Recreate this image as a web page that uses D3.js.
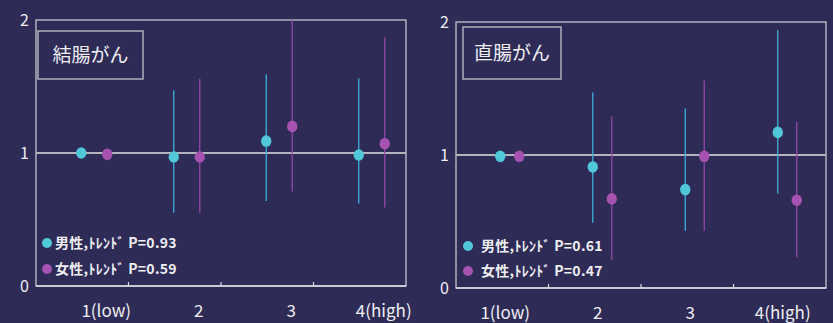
<!DOCTYPE html>
<html>
<head>
<meta charset="utf-8">
<script src="https://cdn.jsdelivr.net/npm/d3@7"></script>
<style>
  html, body { margin: 0; padding: 0; background: #2e2b56; }
  svg { display: block; }
  text { font-family: "Noto Sans CJK JP", "Noto Sans", sans-serif; }
</style>
</head>
<body>
<svg id="chart" width="833" height="323"></svg>
<script>
// Quartile categories
const categories = ["1(low)", "2", "3", "4(high)"];
const yTicks = [0, 1, 2];

// Colon cancer: relative risk with 95% CI (first quartile is the reference)
const colonMen      = [1.00, 0.97, 1.09, 0.985];
const colonMenLow   = [null, 0.55, 0.64, 0.62];
const colonMenHigh  = [null, 1.47, 1.59, 1.56];
const colonWomen     = [0.99, 0.97, 1.20, 1.07];
const colonWomenLow  = [null, 0.55, 0.71, 0.59];
const colonWomenHigh = [null, 1.56, 2.00, 1.87];

// Rectal cancer
const rectumMen      = [0.99, 0.91, 0.74, 1.17];
const rectumMenLow   = [null, 0.49, 0.43, 0.71];
const rectumMenHigh  = [null, 1.47, 1.35, 1.94];
const rectumWomen     = [0.99, 0.67, 0.99, 0.66];
const rectumWomenLow  = [null, 0.21, 0.43, 0.23];
const rectumWomenHigh = [null, 1.29, 1.56, 1.25];

// Legend texts (trend P values)
const colonLegend  = ["男性,ﾄﾚﾝﾄﾞ P=0.93", "女性,ﾄﾚﾝﾄﾞ P=0.59"];
const rectumLegend = ["男性,ﾄﾚﾝﾄﾞ P=0.61", "女性,ﾄﾚﾝﾄﾞ P=0.47"];

const menColor = "#50c8d8", menLine = "#3cb0d8";
const womenColor = "#a552b0", womenLine = "#9248a6";
const frameColor = "#c4c4cc", textColor = "#eeeef4";

const panels = [
  {
    title: "結腸がん", legend: colonLegend,
    x0: 36, x1: 406, top: 20, bottom: 286,
    menShift: -1, womenShift: 25, labelShift: 24,
    titleBox: { dx: 2, y: 31, w: 105, h: 48 },
    legendPos: { dx: 11, tx: 19, y: [243, 269] },
    series: [
      { v: colonMen, lo: colonMenLow, hi: colonMenHigh, color: menColor, line: menLine, key: "menShift" },
      { v: colonWomen, lo: colonWomenLow, hi: colonWomenHigh, color: womenColor, line: womenLine, key: "womenShift" }
    ]
  },
  {
    title: "直腸がん", legend: rectumLegend,
    x0: 456, x1: 826, top: 22, bottom: 288,
    menShift: -2, womenShift: 17, labelShift: 3,
    titleBox: { dx: 7, y: 27, w: 98, h: 52 },
    legendPos: { dx: 12, tx: 25, y: [246, 271] },
    series: [
      { v: rectumMen, lo: rectumMenLow, hi: rectumMenHigh, color: menColor, line: menLine, key: "menShift" },
      { v: rectumWomen, lo: rectumWomenLow, hi: rectumWomenHigh, color: womenColor, line: womenLine, key: "womenShift" }
    ]
  }
];

const svg = d3.select("#chart");

panels.forEach((p, pi) => {
  const g = svg.append("g");
  const x = d3.scaleBand().domain(categories).range([p.x0, p.x1]).padding(0);
  const y = d3.scaleLinear().domain([0, 2]).range([p.bottom, p.top]);
  const cx = (c) => x(c) + x.bandwidth() / 2;

  const clipId = "clip" + pi;
  svg.append("clipPath").attr("id", clipId).append("rect")
    .attr("x", p.x0).attr("y", p.top).attr("width", p.x1 - p.x0).attr("height", p.bottom - p.top);

  // plot frame
  g.append("rect")
    .attr("x", p.x0).attr("y", p.top)
    .attr("width", p.x1 - p.x0).attr("height", p.bottom - p.top)
    .attr("fill", "none").attr("stroke", frameColor).attr("stroke-width", 1.3);

  // reference line at RR = 1
  g.append("line")
    .attr("x1", p.x0).attr("x2", p.x1)
    .attr("y1", y(1)).attr("y2", y(1))
    .attr("stroke", "#b4b4bc").attr("stroke-width", 2);

  // x axis: baseline, inward ticks at category boundaries, labels
  g.append("line")
    .attr("x1", p.x0).attr("x2", p.x1)
    .attr("y1", p.bottom).attr("y2", p.bottom)
    .attr("stroke", "#dcdce4").attr("stroke-width", 1.5);
  g.selectAll(".xtick").data(categories.slice(1)).join("line")
    .attr("x1", d => x(d)).attr("x2", d => x(d))
    .attr("y1", p.bottom).attr("y2", p.bottom - 4)
    .attr("stroke", "#dcdce4").attr("stroke-width", 1.2);

  const xAxis = g.append("g")
    .attr("transform", `translate(${p.labelShift},${p.bottom + 19})`)
    .call(d3.axisBottom(x).tickSize(0).tickPadding(0));
  xAxis.select(".domain").remove();
  xAxis.selectAll("text")
    .attr("fill", textColor).attr("font-size", 17)
    .attr("font-family", "'Noto Sans CJK JP', sans-serif");

  // y axis labels
  const yAxis = g.append("g")
    .attr("transform", `translate(${p.x0 - 7},0)`)
    .call(d3.axisLeft(y).tickValues(yTicks).tickFormat(d3.format("d")).tickSize(0).tickPadding(0));
  yAxis.select(".domain").remove();
  yAxis.selectAll("text")
    .attr("fill", textColor).attr("font-size", 16)
    .attr("font-family", "'Noto Sans CJK JP', sans-serif");

  // title box
  g.append("rect")
    .attr("x", p.x0 + p.titleBox.dx).attr("y", p.titleBox.y)
    .attr("width", p.titleBox.w).attr("height", p.titleBox.h)
    .attr("fill", "none").attr("stroke", frameColor).attr("stroke-width", 1.3);
  g.append("text")
    .attr("x", p.x0 + p.titleBox.dx + p.titleBox.w / 2)
    .attr("y", p.titleBox.y + p.titleBox.h / 2)
    .attr("dy", "0.36em")
    .attr("text-anchor", "middle")
    .attr("font-size", 19)
    .attr("fill", textColor)
    .text(p.title);

  // error bars and point estimates
  const marks = g.append("g").attr("clip-path", `url(#${clipId})`);
  p.series.forEach(s => {
    const shift = p[s.key];
    const rows = categories.map((c, i) => ({ c, v: s.v[i], lo: s.lo[i], hi: s.hi[i] }));
    marks.selectAll(null).data(rows.filter(r => r.lo != null)).join("line")
      .attr("x1", r => cx(r.c) + shift).attr("x2", r => cx(r.c) + shift)
      .attr("y1", r => y(r.lo)).attr("y2", r => y(r.hi))
      .attr("stroke", s.line).attr("stroke-width", 1.3);
    marks.selectAll(null).data(rows).join("ellipse")
      .attr("cx", r => cx(r.c) + shift).attr("cy", r => y(r.v))
      .attr("rx", 5.2).attr("ry", 5.8)
      .attr("fill", s.color);
  });

  // legend
  p.legend.forEach((t, i) => {
    const ly = p.legendPos.y[i];
    g.append("circle")
      .attr("cx", p.x0 + p.legendPos.dx).attr("cy", ly).attr("r", 5)
      .attr("fill", p.series[i].color);
    g.append("text")
      .attr("x", p.x0 + p.legendPos.tx).attr("y", ly).attr("dy", "0.36em")
      .attr("font-size", 14).attr("font-weight", "bold")
      .attr("letter-spacing", 0.3)
      .attr("fill", textColor)
      .text(t);
  });
});
</script>
</body>
</html>
